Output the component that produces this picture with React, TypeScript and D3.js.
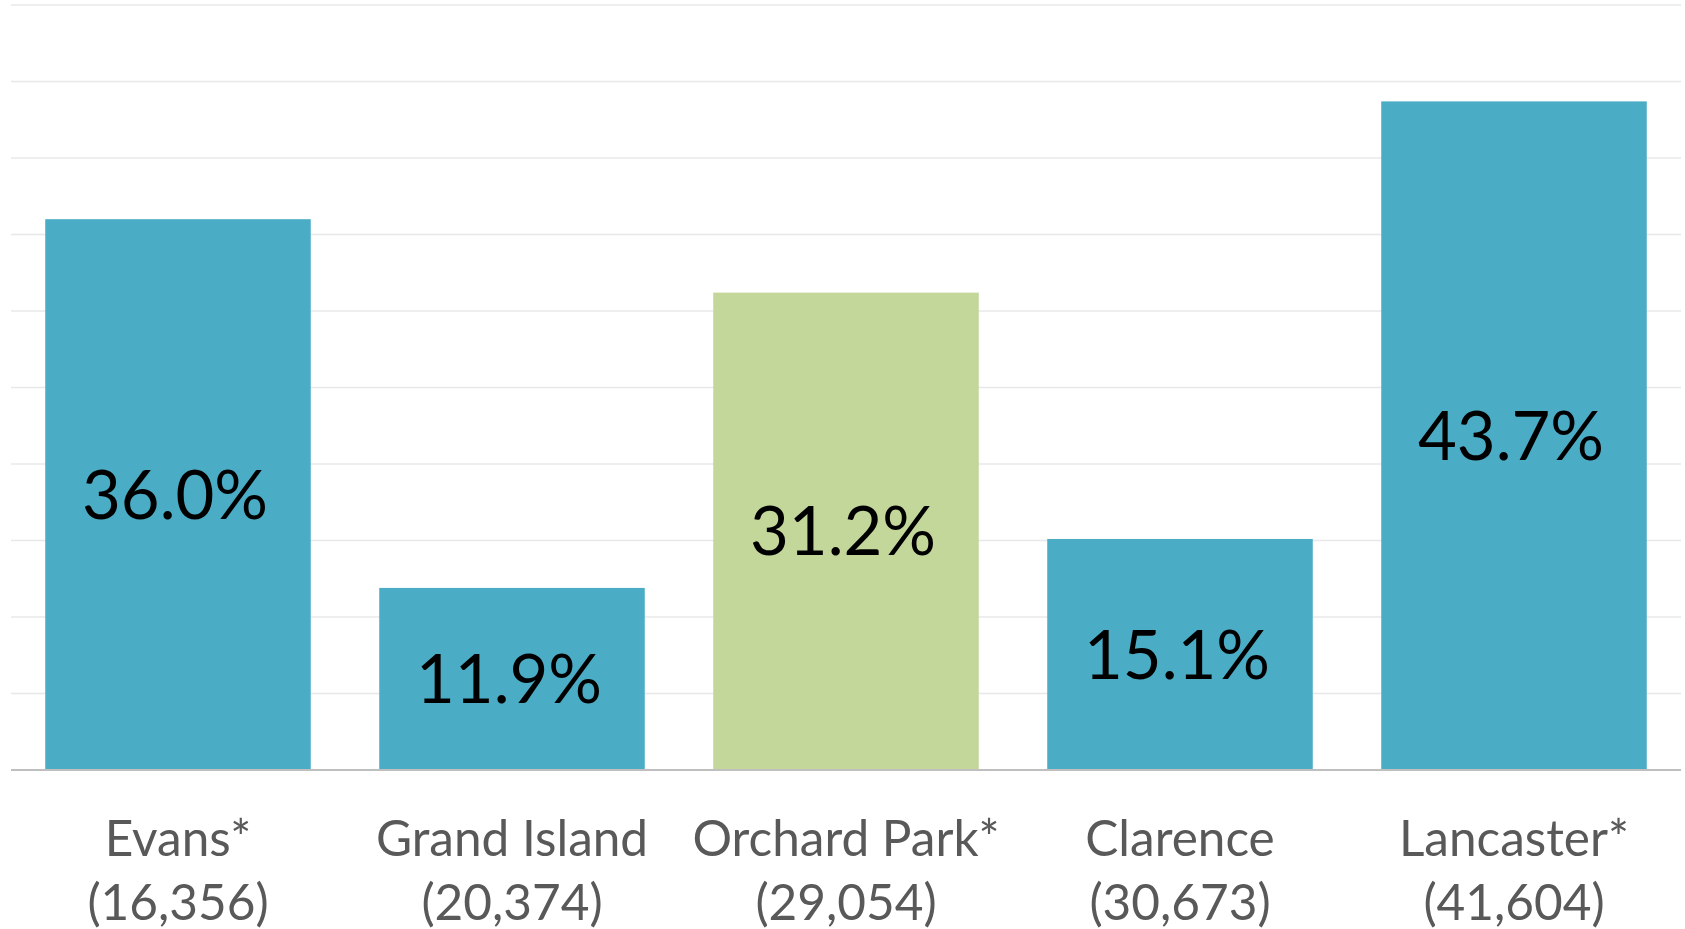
// @ts-nocheck
import React from 'react'
import * as d3 from 'd3'

const towns = ['Evans*', 'Grand Island', 'Orchard Park*', 'Clarence', 'Lancaster*']
const populations = ['(16,356)', '(20,374)', '(29,054)', '(30,673)', '(41,604)']
const shares = [36.0, 11.9, 31.2, 15.1, 43.7]
const highlighted = ['Orchard Park*']
const gridTicks = [5, 10, 15, 20, 25, 30, 35, 40, 45, 50]

const width = 1685
const height = 929
const margin = { top: 5, right: 4, bottom: 159, left: 11 }

const blue = '#4bacc6'
const green = '#c4d79b'
const font = 'Lato, "Open Sans", sans-serif'
const format = d3.format('.1f')

const App = () => {
  const data = towns.map((town, i) => ({ town, pop: populations[i], value: shares[i] }))

  const x = d3
    .scaleBand()
    .domain(towns)
    .range([margin.left, width - margin.right])
    .paddingInner(0.205)
    .paddingOuter(0.1025)

  const y = d3
    .scaleLinear()
    .domain([0, 50])
    .range([height - margin.bottom, margin.top])

  const base = y(0)

  return (
    <svg
      width={width}
      height={height}
      style={{ position: 'absolute', left: 0, top: 0, background: '#fff' }}
      fontFamily={font}
    >
      {/* grid */}
      <g className="grid">
        {gridTicks.map((t) => (
          <line key={t} x1={margin.left} x2={width - margin.right} y1={y(t)} y2={y(t)} stroke="#e8e8e8" strokeWidth={1.6} />
        ))}
      </g>

      {/* bars */}
      <g className="bars">
        {data.map((d) => (
          <rect
            key={d.town}
            x={x(d.town)}
            y={y(d.value)}
            width={x.bandwidth()}
            height={base - y(d.value)}
            fill={highlighted.includes(d.town) ? green : blue}
          />
        ))}
      </g>

      {/* baseline */}
      <line x1={margin.left} x2={width - margin.right} y1={base} y2={base} stroke="#bfbfbf" strokeWidth={2} />

      {/* value labels */}
      <g className="values">
        {data.map((d) => (
          <text
            key={d.town}
            x={x(d.town) + x.bandwidth() / 2 - 3}
            y={(y(d.value) + base) / 2}
            dy="0.36em"
            textAnchor="middle"
            fontSize={67}
            fill="#000"
          >
            {format(d.value)}%
          </text>
        ))}
      </g>

      {/* category labels */}
      <g className="categories" fill="#595959" fontSize={49.5}>
        {data.map((d) => (
          <text key={d.town} textAnchor="middle" x={x(d.town) + x.bandwidth() / 2}>
            <tspan x={x(d.town) + x.bandwidth() / 2} y={base + 86}>
              {d.town}
            </tspan>
            <tspan x={x(d.town) + x.bandwidth() / 2} y={base + 150}>
              {d.pop}
            </tspan>
          </text>
        ))}
      </g>
    </svg>
  )
}

export default App
